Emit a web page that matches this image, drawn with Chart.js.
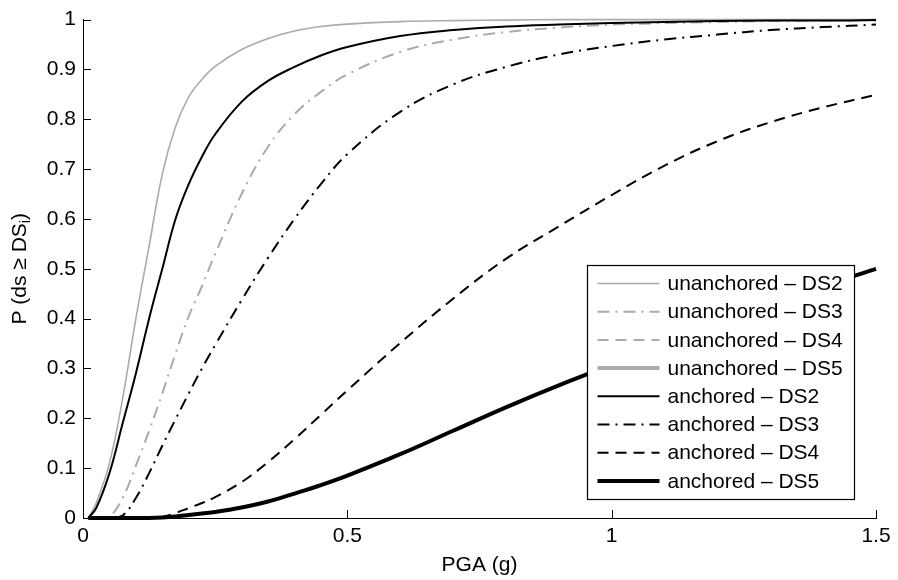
<!DOCTYPE html>
<html>
<head>
<meta charset="utf-8">
<title>Fragility curves</title>
<script src="https://cdn.jsdelivr.net/npm/chart.js@4.4.1/dist/chart.umd.min.js"></script>
<style>
  html, body { margin: 0; padding: 0; background: #fff; }
  canvas { display: block; }
</style>
</head>
<body>
<canvas id="fragility" width="898" height="580"></canvas>
<script>
// PGA sample points (g) and exceedance probabilities for each damage state
const PGA = [0.01, 0.025, 0.05, 0.075, 0.1, 0.125, 0.15, 0.175, 0.2, 0.225, 0.25, 0.3, 0.35, 0.4,
             0.45, 0.5, 0.6, 0.7, 0.8, 0.9, 1.0, 1.1, 1.2, 1.3, 1.4, 1.5];

const unanchoredDS2 = [0, 0.03, 0.11, 0.24, 0.40, 0.545, 0.69, 0.785, 0.845, 0.88, 0.906, 0.94, 0.962, 0.977,
                       0.986, 0.991, 0.996, 0.998, 0.999, 1, 1, 1, 1, 1, 1, 1];
const unanchoredDS3 = [0, 0, 0.003, 0.04, 0.105, 0.175, 0.25, 0.33, 0.405, 0.465, 0.53, 0.65, 0.745, 0.81,
                       0.855, 0.89, 0.935, 0.96, 0.975, 0.984, 0.99, 0.993, 0.995, 0.997, 0.998, 0.998];
const unanchoredDS4 = [];
const unanchoredDS5 = [];

const anchoredDS2 = [0, 0.02, 0.09, 0.19, 0.29, 0.40, 0.50, 0.60, 0.67, 0.725, 0.77, 0.835, 0.877, 0.905,
                     0.928, 0.945, 0.967, 0.979, 0.986, 0.99, 0.993, 0.995, 0.997, 0.998, 0.998, 0.999];
const anchoredDS3 = [0, 0, 0, 0.005, 0.04, 0.09, 0.145, 0.198, 0.25, 0.30, 0.347, 0.437, 0.522, 0.60,
                     0.67, 0.73, 0.815, 0.87, 0.905, 0.93, 0.947, 0.96, 0.97, 0.979, 0.985, 0.99];
const anchoredDS4 = [0, 0, 0, 0, 0, 0, 0.002, 0.01, 0.02, 0.03, 0.042, 0.072, 0.112, 0.158,
                     0.207, 0.256, 0.351, 0.44, 0.52, 0.585, 0.648, 0.707, 0.756, 0.794, 0.824, 0.849];
const anchoredDS5 = [0, 0, 0, 0, 0, 0, 0.001, 0.003, 0.006, 0.009, 0.012, 0.021, 0.033, 0.049,
                     0.066, 0.085, 0.128, 0.175, 0.222, 0.266, 0.307, 0.347, 0.388, 0.428, 0.465, 0.5];

const SERIES_LABELS = [
  'unanchored – DS2', 'unanchored – DS3', 'unanchored – DS4', 'unanchored – DS5',
  'anchored – DS2', 'anchored – DS3', 'anchored – DS4', 'anchored – DS5',
];
const SERIES_VALUES = [
  unanchoredDS2, unanchoredDS3, unanchoredDS4, unanchoredDS5,
  anchoredDS2, anchoredDS3, anchoredDS4, anchoredDS5,
];

const X_TICKS = [0, 0.5, 1, 1.5];
const Y_TICKS = [0, 0.1, 0.2, 0.3, 0.4, 0.5, 0.6, 0.7, 0.8, 0.9, 1];

const FONT = "'Liberation Sans', Arial, Helvetica, sans-serif";
const GRAY = '#ababab';
const BLACK = '#000000';

// line styles: solid, dash-dot, dashed, thick solid
const DASH_DOT = [12, 6, 2, 6];
const DASHED = [11, 7];
const STYLES = [
  { color: GRAY,  width: 1.6, dash: [] },
  { color: GRAY,  width: 2,   dash: DASH_DOT },
  { color: GRAY,  width: 2,   dash: DASHED },
  { color: GRAY,  width: 4,   dash: [] },
  { color: BLACK, width: 2,   dash: [] },
  { color: BLACK, width: 2,   dash: DASH_DOT },
  { color: BLACK, width: 2,   dash: DASHED },
  { color: BLACK, width: 4,   dash: [] },
];

const fmtTick = v => String(Number(v.toFixed(1)));

// ── inward tick marks on the left and bottom axes ─────────────────────────
const inwardTicks = {
  id: 'inwardTicks',
  afterDraw(chart) {
    const { ctx, chartArea: { left, bottom }, scales: { x, y } } = chart;
    ctx.save();
    ctx.strokeStyle = '#000';
    ctx.lineWidth = 1;
    ctx.beginPath();
    Y_TICKS.forEach(v => {
      const py = Math.round(y.getPixelForValue(v)) + 0.5;
      ctx.moveTo(left, py);
      ctx.lineTo(left + 8, py);
    });
    X_TICKS.forEach(v => {
      const px = Math.round(x.getPixelForValue(v)) + 0.5;
      ctx.moveTo(px, bottom);
      ctx.lineTo(px, bottom - 8);
    });
    ctx.stroke();
    ctx.restore();
  },
};

// ── rotated y title with subscript ────────────────────────────────────────
const yTitle = {
  id: 'yTitle',
  afterDraw(chart) {
    const { ctx, chartArea: { top, bottom } } = chart;
    const main = 'P (ds ≥ DS', sub = 'i', close = ')';
    ctx.save();
    ctx.translate(26, (top + bottom) / 2);
    ctx.rotate(-Math.PI / 2);
    ctx.fillStyle = '#000';
    ctx.textBaseline = 'alphabetic';
    ctx.textAlign = 'left';
    ctx.font = `21px ${FONT}`;
    const w1 = ctx.measureText(main).width;
    const w3 = ctx.measureText(close).width;
    ctx.font = `14px ${FONT}`;
    const w2 = ctx.measureText(sub).width;
    const x0 = -(w1 + w2 + w3) / 2;
    ctx.font = `21px ${FONT}`;
    ctx.fillText(main, x0, 0);
    ctx.font = `14px ${FONT}`;
    ctx.fillText(sub, x0 + w1, 4);
    ctx.font = `21px ${FONT}`;
    ctx.fillText(close, x0 + w1 + w2, 0);
    ctx.restore();
  },
};

// ── boxed legend in the lower right of the plot ───────────────────────────
const boxLegend = {
  id: 'boxLegend',
  afterDraw(chart) {
    const { ctx, chartArea: { right, bottom } } = chart;
    const w = 267, h = 234;
    const bx = Math.round(right - 22 - w) + 0.5;
    const by = Math.round(bottom - 19 - h) + 0.5;
    ctx.save();
    ctx.fillStyle = '#fff';
    ctx.fillRect(bx, by, w, h);
    ctx.strokeStyle = '#000';
    ctx.lineWidth = 1.2;
    ctx.strokeRect(bx, by, w, h);

    ctx.font = `21px ${FONT}`;
    ctx.textBaseline = 'middle';
    ctx.textAlign = 'left';
    chart.data.datasets.forEach((ds, i) => {
      const cy = by + 18 + i * 28.2;
      ctx.beginPath();
      ctx.strokeStyle = ds.borderColor;
      ctx.lineWidth = ds.borderWidth;
      ctx.setLineDash(ds.borderDash);
      ctx.moveTo(bx + 10, cy);
      ctx.lineTo(bx + 72, cy);
      ctx.stroke();
      ctx.setLineDash([]);
      ctx.fillStyle = '#000';
      ctx.fillText(ds.label, bx + 80, cy + 1);
    });
    ctx.restore();
  },
};

const datasets = SERIES_LABELS.map((label, i) => ({
  label,
  data: SERIES_VALUES[i].map((p, k) => ({ x: PGA[k], y: p })),
  borderColor: STYLES[i].color,
  borderWidth: STYLES[i].width,
  borderDash: STYLES[i].dash,
  borderCapStyle: 'butt',
  borderJoinStyle: 'round',
  pointRadius: 0,
  fill: false,
  tension: 0.4,
  clip: false,
  order: i < 4 ? 1 : 0,
}));

const axisFont = { family: FONT, size: 21 };

new Chart(document.getElementById('fragility').getContext('2d'), {
  type: 'line',
  data: { datasets },
  options: {
    responsive: false,
    animation: false,
    events: [],
    layout: { padding: { left: 0, right: 22, top: 12, bottom: 0 } },
    plugins: {
      legend: { display: false },
      tooltip: { enabled: false },
    },
    scales: {
      x: {
        type: 'linear',
        min: 0,
        max: 1.5,
        afterBuildTicks: s => { s.ticks = X_TICKS.map(value => ({ value })); },
        afterFit: s => { s.height = 62; },
        grid: { display: false, drawTicks: false },
        border: { display: true, color: '#000', width: 1 },
        ticks: { color: '#000', font: axisFont, padding: 6, maxRotation: 0, callback: fmtTick },
        title: {
          display: true,
          text: 'PGA (g)',
          color: '#000',
          font: axisFont,
          padding: { top: 0, bottom: 2 },
        },
      },
      y: {
        type: 'linear',
        min: 0,
        max: 1,
        afterBuildTicks: s => { s.ticks = Y_TICKS.map(value => ({ value })); },
        afterFit: s => { s.width = 83; },
        grid: { display: false, drawTicks: false },
        border: { display: true, color: '#000', width: 1 },
        ticks: { color: '#000', font: axisFont, padding: 7, callback: fmtTick },
      },
    },
  },
  plugins: [inwardTicks, yTitle, boxLegend],
});
</script>
</body>
</html>
